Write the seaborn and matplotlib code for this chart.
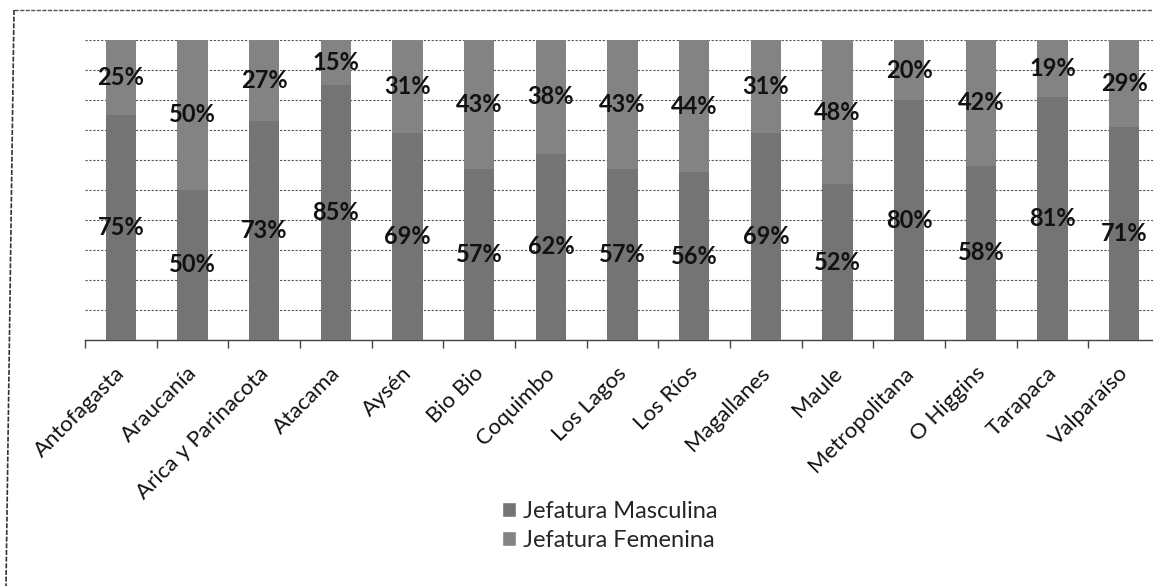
import matplotlib
matplotlib.use("Agg")
import matplotlib.pyplot as plt
from matplotlib.lines import Line2D
from matplotlib.patches import Patch
from matplotlib.transforms import ScaledTranslation
import numpy as np
import pandas as pd
import seaborn as sns

regiones = ["Antofagasta", "Araucanía", "Arica y Parinacota", "Atacama", "Aysén",
            "Bio Bio", "Coquimbo", "Los Lagos", "Los Ríos", "Magallanes", "Maule",
            "Metropolitana", "O Higgins", "Tarapaca", "Valparaíso"]
masculina = [75, 50, 73, 85, 69, 57, 62, 57, 56, 69, 52, 80, 58, 81, 71]
femenina = [25, 50, 27, 15, 31, 43, 38, 43, 44, 31, 48, 20, 42, 19, 29]

color_masc = "#747474"
color_fem = "#838383"

sns.set_theme(style="white")
plt.rcParams["font.family"] = ["Lato", "DejaVu Sans"]

df = pd.DataFrame({"region": regiones, "masc": masculina, "fem": femenina})
df["total"] = df["masc"] + df["fem"]

W, H = 1153, 586
fig = plt.figure(figsize=(W / 100, H / 100), dpi=100)
left, right, top, bottom = 85, 1160, 40, 340
ax = fig.add_axes([left / W, 1 - bottom / H, (right - left) / W, (bottom - top) / H])

# Stacked 100% columns: full height in the upper colour, lower part drawn over it
sns.barplot(data=df, x="region", y="total", color=color_fem, width=0.42,
            saturation=1, ax=ax, zorder=2, linewidth=0)
sns.barplot(data=df, x="region", y="masc", color=color_masc, width=0.42,
            saturation=1, ax=ax, zorder=3, linewidth=0)

n = len(regiones)
ax.set_xlim(-0.5, n - 0.5)
ax.set_ylim(0, 100)
ax.set_xlabel("")
ax.set_ylabel("")
ax.set_yticks(np.arange(0, 101, 10))
ax.set_yticklabels([])
ax.tick_params(axis="y", length=0)
ax.yaxis.grid(True, color="#555555", linestyle=(0, (2, 1.5)), linewidth=0.8, zorder=0)
ax.set_axisbelow(True)
for s in ["top", "right", "left"]:
    ax.spines[s].set_visible(False)
ax.spines["bottom"].set_color("#444444")
ax.spines["bottom"].set_linewidth(1.0)

# Category boundary ticks below the axis
ax.set_xticks(np.arange(n))
ax.set_xticklabels(regiones, rotation=45, ha="right", rotation_mode="anchor",
                   fontsize=16, color="#111111")
ax.tick_params(axis="x", which="major", length=0, pad=13)
ax.set_xticks(np.arange(-0.5, n, 1), minor=True)
ax.tick_params(axis="x", which="minor", length=6, width=1, color="#444444",
               direction="out", bottom=True)
shift = ScaledTranslation(-6 / 100, -5 / 100, fig.dpi_scale_trans)
for lbl in ax.get_xticklabels():
    lbl.set_transform(lbl.get_transform() + shift)

# Percent labels centred in each segment
for i, (m, f) in enumerate(zip(masculina, femenina)):
    ax.text(i, m / 2, f"{m}%", ha="center", va="center", fontsize=17,
            fontweight="bold", color="#111111", zorder=5)
    ax.text(i, m + f / 2, f"{f}%", ha="center", va="center", fontsize=17,
            fontweight="bold", color="#111111", zorder=5)

handles = [Patch(facecolor=color_masc, label="Jefatura Masculina"),
           Patch(facecolor=color_fem, label="Jefatura Femenina")]
fig.legend(handles=handles, loc="center", bbox_to_anchor=(610 / W, 1 - 526 / H),
           ncol=1, frameon=False, fontsize=17, handlelength=0.6, handleheight=0.6,
           handletextpad=0.3, labelspacing=0.35)

# Outer chart frame
fig.add_artist(Line2D([14 / W, 1.0], [1 - 10 / H, 1 - 10 / H], transform=fig.transFigure,
                      color="#555555", linewidth=1.0, linestyle=(0, (3, 1))))
fig.add_artist(Line2D([14 / W, 6 / W], [1 - 10 / H, 0.0], transform=fig.transFigure,
                      color="#333333", linewidth=1.2, linestyle=(0, (3, 1))))

fig.savefig("out.png", dpi=100)
